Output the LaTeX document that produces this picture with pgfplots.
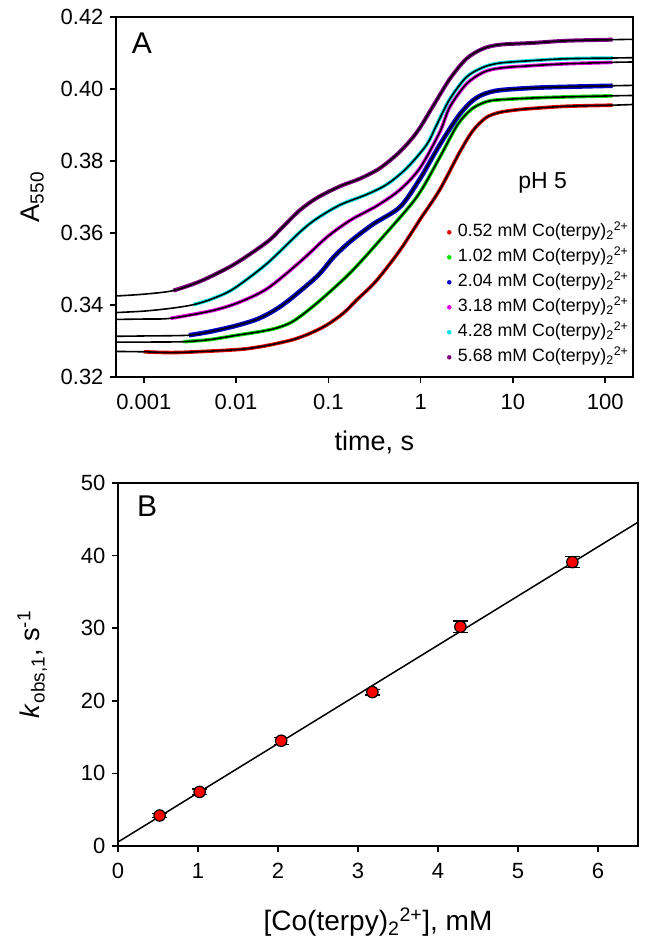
\documentclass[border=0pt]{standalone}
\usepackage{fontspec}
\setmainfont{Liberation Sans}
\usepackage{pgfplots}
\pgfplotsset{compat=1.18}
\definecolor{cRed}{RGB}{230,0,0}
\definecolor{cGreen}{RGB}{0,225,0}
\definecolor{cBlue}{RGB}{0,0,200}
\definecolor{cMag}{RGB}{230,0,230}
\definecolor{cCyan}{RGB}{0,225,225}
\definecolor{cPurp}{RGB}{128,0,128}
\newcommand{\coterpy}{Co(terpy)\textsubscript{2}\textsuperscript{2+}}
\pgfplotsset{
  mystyle/.style={
    scale only axis,
    tick align=outside, xtick pos=left, ytick pos=left,
    major tick length=6pt,
    axis line style={line width=1.5pt},
    tick style={line width=1.5pt, black},
    /pgf/number format/assume math mode=true,
    tick label style={font=\fontsize{22}{26}\selectfont},
    xticklabel style={yshift=-8pt},
    yticklabel style={xshift=-3pt},
    label style={font=\fontsize{27}{32}\selectfont},
  },
  data/.style={smooth, line width=3.6pt},
  fit/.style={smooth, black, line width=1.6pt},
}
\begin{document}
\begin{tikzpicture}
\useasboundingbox (0,0) rectangle (649pt,948pt);
% ---------------- Panel A ----------------
\begin{axis}[mystyle,
  at={(116pt,571pt)}, anchor=south west,
  width=517pt, height=360pt,
  xmode=log, xmin=0.0005, xmax=200, ymin=0.32, ymax=0.42,
  xminorticks=false,
  xtick={0.001,0.01,0.1,1,10,100}, xticklabels={0.001,0.01,0.1,1,10,100},
  ytick={0.32,0.34,0.36,0.38,0.40,0.42}, yticklabels={0.32,0.34,0.36,0.38,0.40,0.42},
  xlabel={time, s}, ylabel={A\textsubscript{550}},
  xlabel style={at={(axis description cs:0.5,-0.181)}, anchor=center},
  ylabel style={at={(axis description cs:-0.162,0.5)}, anchor=center},
  legend style={draw=none, fill=none, at={(0.640,0.433)}, anchor=north west,
    inner sep=0pt, row sep=3pt, column sep=5pt,
    font=\fontsize{17.8}{21}\selectfont,
    nodes={inner sep=1.5pt, text height=14pt, text depth=5pt}, cells={anchor=west}},
  legend image code/.code={\fill[#1] (2pt,0pt) circle (2pt);},
]
% data
\addplot[data, cRed, forget plot] coordinates {(0.001,0.3270) (0.00229,0.3268) (0.0102,0.3276) (0.0182,0.3284) (0.0275,0.3293) (0.0417,0.3304) (0.0631,0.3321) (0.0955,0.3344) (0.145,0.3377) (0.203,0.3414) (0.333,0.3468) (0.596,0.3552) (1.0,0.3640) (1.61,0.3720) (2.655,0.3825) (3.70,0.3885) (5.15,0.3921) (7.18,0.3935) (10.9,0.3942) (16.4,0.3946) (37.8,0.3952) (120,0.3955)};
\addplot[data, cGreen, forget plot] coordinates {(0.00269,0.3298) (0.00525,0.3304) (0.0102,0.3316) (0.0182,0.3326) (0.0275,0.3336) (0.0417,0.3355) (0.075,0.3405) (0.172,0.3489) (0.392,0.3590) (0.908,0.3700) (1.61,0.3810) (2.5,0.3900) (3.6,0.3945) (5.2,0.3965) (7.18,0.3970) (16.4,0.3975) (37.8,0.3978) (120,0.3981)};
\addplot[data, cBlue, line width=4.6pt, forget plot] coordinates {(0.00309,0.3316) (0.00525,0.3326) (0.0102,0.3343) (0.0182,0.3364) (0.0327,0.3402) (0.075,0.3479) (0.113,0.3532) (0.172,0.3576) (0.307,0.3625) (0.596,0.3672) (0.98,0.3750) (1.61,0.3845) (2.655,0.3930) (4.0,0.3975) (6.5,0.3995) (16.4,0.4003) (37.8,0.4006) (120,0.4009)};
\addplot[data, cMag, forget plot] coordinates {(0.00195,0.3363) (0.00525,0.3383) (0.0102,0.3405) (0.0216,0.3445) (0.0494,0.3520) (0.096,0.3588) (0.172,0.3635) (0.333,0.3675) (0.596,0.3720) (0.98,0.3780) (1.61,0.3880) (2.07,0.3950) (3.133,0.4014) (4.74,0.4046) (7.18,0.4058) (16.4,0.4065) (37.8,0.4070) (120,0.4074)};
\addplot[data, cCyan, forget plot] coordinates {(0.00347,0.3401) (0.0055,0.3417) (0.0094,0.3445) (0.0216,0.3515) (0.0494,0.3603) (0.075,0.3640) (0.134,0.3678) (0.26,0.3707) (0.43,0.3735) (0.705,0.3780) (1.16,0.3845) (1.49,0.3900) (2.07,0.3972) (3.133,0.4033) (4.74,0.4060) (7.18,0.4072) (16.4,0.4079) (37.8,0.4084) (120,0.4086)};
\addplot[data, cPurp, line width=4pt, forget plot] coordinates {(0.00209,0.3440) (0.0041,0.3466) (0.0094,0.3512) (0.0217,0.3575) (0.0324,0.3618) (0.0494,0.3664) (0.0758,0.3698) (0.134,0.3730) (0.22,0.3751) (0.362,0.3780) (0.596,0.3826) (0.911,0.3880) (1.36,0.3952) (2.07,0.4028) (3.133,0.4084) (4.74,0.4112) (7.18,0.4123) (16.4,0.4128) (37.8,0.4134) (120,0.4137)};
% fits
\addplot[fit, forget plot] coordinates {(0.0005,0.3271) (0.001,0.3270) (0.00229,0.3268) (0.0102,0.3276) (0.0182,0.3284) (0.0275,0.3293) (0.0417,0.3304) (0.0631,0.3321) (0.0955,0.3344) (0.145,0.3377) (0.203,0.3414) (0.333,0.3468) (0.596,0.3552) (1.0,0.3640) (1.61,0.3720) (2.655,0.3825) (3.70,0.3885) (5.15,0.3921) (7.18,0.3935) (10.9,0.3942) (16.4,0.3946) (37.8,0.3952) (120,0.3955) (200,0.3957)};
\addplot[fit, forget plot] coordinates {(0.0005,0.3297) (0.001,0.3297) (0.00269,0.3298) (0.00525,0.3304) (0.0102,0.3316) (0.0182,0.3326) (0.0275,0.3336) (0.0417,0.3355) (0.075,0.3405) (0.172,0.3489) (0.392,0.3590) (0.908,0.3700) (1.61,0.3810) (2.5,0.3900) (3.6,0.3945) (5.2,0.3965) (7.18,0.3970) (16.4,0.3975) (37.8,0.3978) (120,0.3981) (200,0.3982)};
\addplot[fit, forget plot] coordinates {(0.0005,0.3313) (0.001,0.3314) (0.00309,0.3316) (0.00525,0.3326) (0.0102,0.3343) (0.0182,0.3364) (0.0327,0.3402) (0.075,0.3479) (0.113,0.3532) (0.172,0.3576) (0.307,0.3625) (0.596,0.3672) (0.98,0.3750) (1.61,0.3845) (2.655,0.3930) (4.0,0.3975) (6.5,0.3995) (16.4,0.4003) (37.8,0.4006) (120,0.4009) (200,0.4010)};
\addplot[fit, forget plot] coordinates {(0.0005,0.3360) (0.001,0.3361) (0.00195,0.3363) (0.00525,0.3383) (0.0102,0.3405) (0.0216,0.3445) (0.0494,0.3520) (0.096,0.3588) (0.172,0.3635) (0.333,0.3675) (0.596,0.3720) (0.98,0.3780) (1.61,0.3880) (2.07,0.3950) (3.133,0.4014) (4.74,0.4046) (7.18,0.4058) (16.4,0.4065) (37.8,0.4070) (120,0.4074) (200,0.4075)};
\addplot[fit, forget plot] coordinates {(0.0005,0.3379) (0.001,0.3383) (0.002,0.3391) (0.00347,0.3401) (0.0055,0.3417) (0.0094,0.3445) (0.0216,0.3515) (0.0494,0.3603) (0.075,0.3640) (0.134,0.3678) (0.26,0.3707) (0.43,0.3735) (0.705,0.3780) (1.16,0.3845) (1.49,0.3900) (2.07,0.3972) (3.133,0.4033) (4.74,0.4060) (7.18,0.4072) (16.4,0.4079) (37.8,0.4084) (120,0.4086) (200,0.4087)};
\addplot[fit, forget plot] coordinates {(0.0005,0.3425) (0.001,0.3430) (0.00209,0.3440) (0.0041,0.3466) (0.0094,0.3512) (0.0217,0.3575) (0.0324,0.3618) (0.0494,0.3664) (0.0758,0.3698) (0.134,0.3730) (0.22,0.3751) (0.362,0.3780) (0.596,0.3826) (0.911,0.3880) (1.36,0.3952) (2.07,0.4028) (3.133,0.4084) (4.74,0.4112) (7.18,0.4123) (16.4,0.4128) (37.8,0.4134) (120,0.4137) (200,0.4138)};
\addlegendimage{cRed}\addlegendentry{0.52 mM \coterpy}
\addlegendimage{cGreen}\addlegendentry{1.02 mM \coterpy}
\addlegendimage{cBlue}\addlegendentry{2.04 mM \coterpy}
\addlegendimage{cMag}\addlegendentry{3.18 mM \coterpy}
\addlegendimage{cCyan}\addlegendentry{4.28 mM \coterpy}
\addlegendimage{cPurp}\addlegendentry{5.68 mM \coterpy}
\node[font=\fontsize{30}{36}\selectfont] at (axis description cs:0.05,0.928) {A};
\node[font=\fontsize{23}{27}\selectfont] at (axis cs:21,0.374) {pH 5};
\end{axis}
% ---------------- Panel B ----------------
\begin{axis}[mystyle,
  at={(118pt,102pt)}, anchor=south west,
  width=520pt, height=363pt,
  xmin=0, xmax=6.5, ymin=0, ymax=50,
  xtick={0,1,2,3,4,5,6}, xticklabels={0,1,2,3,4,5,6},
  ytick={0,10,20,30,40,50}, yticklabels={0,10,20,30,40,50},
  xlabel={[\coterpy], mM},
  ylabel={\textit{k}\textsubscript{obs,1}, s\textsuperscript{-1}},
  xlabel style={at={(axis description cs:0.5,-0.209)}, anchor=center, font=\fontsize{28}{33}\selectfont},
  ylabel style={at={(axis description cs:-0.165,0.5)}, anchor=center},
]
\addplot[black, line width=1.5pt] coordinates {(0,0.55) (6.5,44.6)};
\addplot[only marks, mark=*, mark size=5.7pt,
  mark options={fill=red, draw=black, line width=1.2pt},
  error bars/.cd, y dir=both, y explicit,
  error bar style={line width=1.2pt, black},
  error mark options={rotate=90, mark size=7.5pt, line width=1.2pt, black}]
  coordinates {
  (0.52,4.2) +- (0,0.3)
  (1.02,7.45) +- (0,0.4)
  (2.04,14.5) +- (0,0.5)
  (3.18,21.2) +- (0,0.4)
  (4.28,30.2) +- (0,0.8)
  (5.68,39.1) +- (0,0.75)
  };
\node[font=\fontsize{30}{36}\selectfont] at (axis description cs:0.056,0.935) {B};
\end{axis}
\end{tikzpicture}
\end{document}
